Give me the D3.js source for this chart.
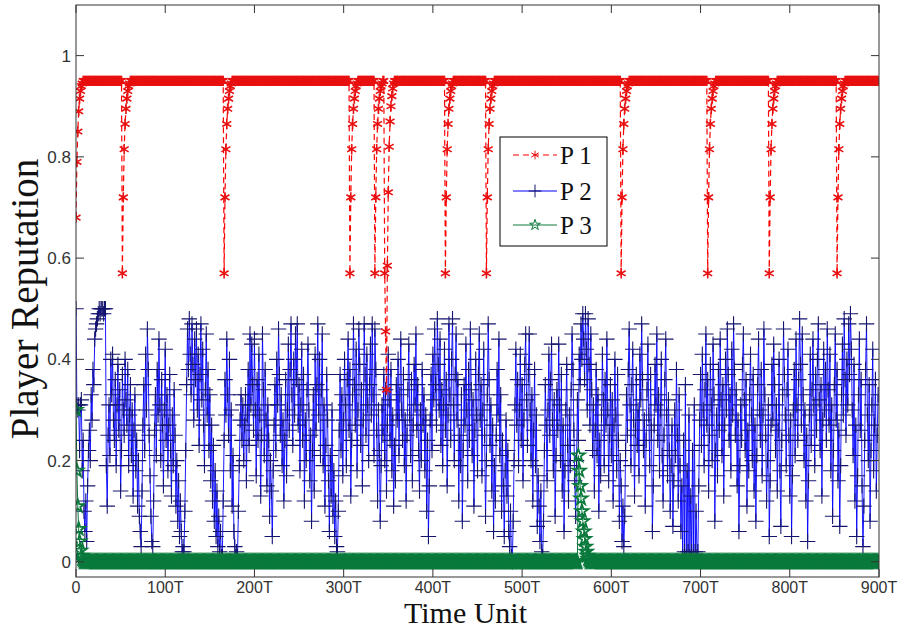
<!DOCTYPE html>
<html>
<head>
<meta charset="utf-8">
<script src="https://cdn.jsdelivr.net/npm/d3@7"></script>
<style>
  body { margin: 0; background: #fff; }
  svg { display: block; }
</style>
</head>
<body>
<svg class="svg" width="901" height="631"></svg>
<script>
// x ticks and labels
let xTicks = [0,100,200,300,400,500,600,700,800,900];
let xTickLabels = ['0','100T','200T','300T','400T','500T','600T','700T','800T','900T'];
let yTicks = [0,0.2,0.4,0.6,0.8,1];
let yTickLabels = ['0','0.2','0.4','0.6','0.8','1'];
let seriesNames = ['P 1','P 2','P 3'];

// P1: sits at the plateau, dips at these times and climbs back
let p1Plateau = 0.95;
let p1Start = [.68,.79,.85,.89,.915,.93,.94,.945];
let p1DipTimes = [52,166,307,335,414,460,611,708,777,853];
let p1Recovery = [.57,.72,.815,.865,.895,.915,.93,.94,.945];
let p1DeepDipTime = 346;
let p1DeepDip = [.57,.455,.34,.585,.73,.82,.87,.9,.92,.935,.945];

// P2, one value per time unit
let p2Values = [
.50,.31,.30,.31,.22,.31,.32,.18,.24,.10,.06,.12,.04,.15,.22,.26,.20,.33,.28,.38,.35,.44,.46,.47,.48,.49,.50,.49,.50,.50,
.50,.49,.50,.50,.19,.11,.25,.31,.21,.40,.33,.41,.28,.24,.36,.19,.31,.39,.26,.34,.14,.22,.37,.30,.25,.40,.32,.27,.38,.19,
.29,.35,.21,.30,.13,.26,.33,.18,.24,.11,.20,.09,.06,.03,.14,.27,.35,.22,.41,.30,.46,.38,.25,.17,.09,.04,.03,.12,.26,.33,
.21,.38,.29,.44,.31,.20,.36,.27,.15,.30,.42,.24,.33,.18,.27,.37,.22,.13,.29,.19,.34,.25,.11,.20,.08,.16,.05,.12,.06,.02,
.03,.02,.10,.22,.35,.46,.38,.48,.41,.33,.47,.39,.28,.44,.36,.46,.30,.41,.23,.37,.47,.32,.42,.27,.19,.34,.45,.29,.38,.22,
.33,.16,.27,.12,.23,.08,.18,.05,.14,.03,.09,.02,.06,.01,.01,.12,.24,.36,.29,.44,.33,.25,.40,.18,.30,.11,.21,.06,.03,.01,
.02,.01,.10,.19,.28,.33,.24,.31,.20,.27,.33,.16,.29,.38,.23,.45,.31,.43,.35,.26,.44,.30,.17,.36,.24,.41,.29,.13,.25,.45,
.34,.21,.38,.28,.15,.31,.24,.09,.20,.14,.05,.18,.27,.35,.22,.40,.31,.46,.37,.25,.33,.19,.28,.12,.24,.36,.17,.30,.43,.26,
.38,.47,.33,.23,.40,.29,.45,.36,.47,.27,.35,.18,.31,.42,.24,.37,.12,.28,.20,.34,.43,.30,.16,.25,.08,.22,.33,.14,.41,.26,
.35,.47,.29,.40,.21,.34,.45,.19,.31,.11,.23,.37,.28,.16,.06,.21,.13,.30,.09,.18,.05,.12,.03,.02,.10,.26,.37,.22,.33,.17,
.28,.40,.31,.19,.36,.44,.26,.38,.13,.24,.33,.47,.35,.27,.42,.18,.30,.46,.39,.23,.34,.15,.28,.47,.37,.25,.41,.31,.20,.35,
.43,.29,.47,.33,.21,.46,.38,.26,.12,.30,.22,.08,.19,.31,.25,.37,.20,.34,.14,.27,.41,.32,.24,.38,.18,.29,.11,.23,.16,.35,
.28,.40,.21,.33,.44,.30,.24,.37,.19,.28,.12,.25,.34,.43,.29,.21,.36,.16,.27,.39,.31,.45,.26,.35,.22,.14,.30,.20,.38,.27,
.33,.18,.29,.10,.24,.05,.15,.28,.37,.22,.41,.32,.46,.35,.27,.48,.39,.30,.44,.23,.34,.19,.31,.42,.26,.36,.15,.29,.47,.33,
.24,.40,.48,.31,.20,.37,.45,.28,.36,.12,.25,.19,.33,.08,.22,.35,.27,.43,.30,.16,.38,.24,.46,.34,.21,.32,.11,.26,.40,.29,
.18,.37,.45,.28,.35,.17,.30,.42,.25,.09,.20,.33,.47,.36,.23,.31,.14,.27,.06,.19,.12,.25,.38,.29,.44,.21,.33,.10,.24,.15,
.05,.18,.28,.13,.22,.06,.03,.10,.01,.00,.08,.20,.31,.42,.27,.36,.19,.30,.41,.24,.35,.16,.28,.39,.45,.32,.23,.37,.45,.30,
.20,.33,.12,.26,.38,.19,.29,.07,.17,.11,.04,.14,.02,.01,.08,.22,.35,.27,.16,.30,.41,.25,.36,.43,.28,.18,.32,.09,.21,.34,
.26,.43,.31,.20,.37,.14,.27,.06,.18,.30,.39,.23,.12,.29,.19,.34,.45,.38,.26,.16,.09,.20,.32,.24,.41,.35,.47,.40,.49,.44,
.36,.49,.42,.30,.48,.39,.27,.45,.34,.22,.31,.14,.26,.38,.21,.33,.10,.24,.17,.29,.41,.32,.19,.36,.27,.44,.30,.16,.25,.35,
.21,.32,.12,.27,.40,.29,.18,.37,.24,.08,.20,.15,.04,.11,.03,.09,.22,.33,.25,.38,.46,.31,.19,.35,.42,.28,.13,.26,.37,.23,
.30,.17,.41,.32,.47,.36,.22,.28,.11,.24,.34,.43,.29,.19,.37,.26,.06,.15,.27,.39,.31,.45,.24,.33,.18,.30,.40,.21,.12,.25,
.36,.44,.29,.17,.32,.22,.10,.19,.27,.07,.16,.30,.21,.38,.25,.12,.33,.19,.06,.15,.01,.24,.02,.35,.01,.18,.02,.29,.01,.13,
.02,.22,.01,.31,.02,.10,.01,.02,.15,.28,.37,.23,.41,.30,.19,.34,.45,.27,.36,.14,.25,.39,.31,.20,.43,.33,.08,.22,.29,.17,
.38,.26,.44,.32,.21,.35,.13,.27,.40,.30,.46,.37,.24,.33,.18,.42,.29,.47,.38,.25,.34,.15,.28,.06,.19,.31,.24,.39,.45,.32,
.22,.36,.11,.26,.18,.33,.41,.29,.20,.37,.14,.27,.08,.21,.35,.44,.30,.24,.38,.17,.29,.46,.33,.25,.12,.20,.31,.05,.16,.27,
.39,.28,.43,.35,.22,.31,.14,.26,.40,.18,.07,.24,.33,.46,.37,.29,.19,.34,.42,.25,.13,.28,.05,.17,.30,.38,.21,.44,.31,.24,
.36,.48,.39,.27,.45,.33,.20,.30,.12,.25,.04,.16,.29,.41,.23,.34,.44,.31,.19,.37,.26,.40,.47,.32,.22,.35,.13,.28,.42,.30,
.38,.24,.46,.34,.27,.41,.18,.31,.09,.22,.35,.45,.28,.38,.16,.26,.07,.19,.33,.43,.29,.48,.36,.25,.40,.31,.47,.37,.49,.42,
.30,.21,.39,.12,.27,.05,.17,.33,.44,.26,.36,.15,.03,.11,.24,.38,.47,.29,.20,.35,.08,.22,.31,.42,.18,.27,.36,.14,.25,.33
];

// P3: decays to zero at the start and after the bump near 563
let p3Start = [.30,.18,.11,.065,.04,.022,.012,.006,.003];
let p3BumpTime = 563;
let p3Bump = [.21,.18,.15,.125,.10,.08,.06,.045,.03,.02,.012,.006,.003];
let p3Floor = 0;

let nSteps = p2Values.length;

let p1 = [];
let p3 = [];
for (let i = 0; i < nSteps; i++) { p1.push(p1Plateau); p3.push(p3Floor); }
for (let i = 0; i < p1Start.length; i++) p1[i] = p1Start[i];
for (let k = 0; k < p1DipTimes.length; k++) {
    for (let j = 0; j < p1Recovery.length; j++) p1[p1DipTimes[k] + j] = p1Recovery[j];
}
for (let j = 0; j < p1DeepDip.length; j++) p1[p1DeepDipTime + j] = p1DeepDip[j];
for (let i = 0; i < p3Start.length; i++) p3[i] = p3Start[i];
for (let j = 0; j < p3Bump.length; j++) p3[p3BumpTime + j] = p3Bump[j];

let plotLeft = 76, plotRight = 879, plotTop = 5, plotBottom = 577;
let tickLen = 8;

let svg = d3.select('.svg');
let x = d3.scaleLinear().domain([0, 900]).range([plotLeft, plotRight]);
let y = d3.scaleLinear().domain([-0.03, 1.1]).range([plotBottom, plotTop]);

let series = [
    {name: seriesNames[0], values: p1, line: '#ff0000', marker: '#e81010', dash: '6,4', symbol: d3.symbolAsterisk, size: 75, lw: 1.2, mw: 1.6},
    {name: seriesNames[1], values: p2Values, line: '#0000ff', marker: '#14146e', dash: null, symbol: d3.symbolPlus, size: 80, lw: 0.9, mw: 1.1},
    {name: seriesNames[2], values: p3, line: '#0a7a3c', marker: '#0a7a3c', dash: null, symbol: d3.symbolStar, size: 52, lw: 1, mw: 1.8}
];

let clip = svg.append('clipPath').attr('id', 'plotClip');
clip.append('rect').attr('x', plotLeft).attr('y', plotTop)
    .attr('width', plotRight - plotLeft).attr('height', plotBottom - plotTop);

let plotG = svg.append('g').attr('clip-path', 'url(#plotClip)');

let lineGen = d3.line()
    .x(function (d, i) { return x(i); })
    .y(function (d) { return y(d); });

// draw order: P2 first, P3 above, P1 on top
let order = [1, 2, 0];
for (let o = 0; o < order.length; o++) {
    let s = series[order[o]];
    let g = plotG.append('g').attr('class', 'series');
    g.append('path')
        .attr('d', lineGen(s.values))
        .attr('fill', 'none')
        .attr('stroke', s.line)
        .attr('stroke-width', s.lw)
        .attr('stroke-dasharray', s.dash);
    let sym = d3.symbol().type(s.symbol).size(s.size);
    g.selectAll('path.mk')
        .data(s.values)
        .enter()
        .append('path')
        .attr('class', 'mk')
        .attr('d', sym)
        .attr('transform', function (d, i) { return 'translate(' + x(i) + ',' + y(d) + ')'; })
        .attr('fill', 'none')
        .attr('stroke', s.marker)
        .attr('stroke-width', s.mw);
}

// box and ticks
let axisColor = '#333';
svg.append('rect')
    .attr('x', plotLeft).attr('y', plotTop)
    .attr('width', plotRight - plotLeft).attr('height', plotBottom - plotTop)
    .attr('fill', 'none').attr('stroke', axisColor).attr('stroke-width', 1);

let tickG = svg.append('g').attr('stroke', axisColor).attr('stroke-width', 1);
xTicks.forEach(function (t) {
    tickG.append('line').attr('x1', x(t)).attr('x2', x(t)).attr('y1', plotBottom).attr('y2', plotBottom - tickLen);
    tickG.append('line').attr('x1', x(t)).attr('x2', x(t)).attr('y1', plotTop).attr('y2', plotTop + tickLen);
});
yTicks.forEach(function (t) {
    tickG.append('line').attr('x1', plotLeft).attr('x2', plotLeft + tickLen).attr('y1', y(t)).attr('y2', y(t));
    tickG.append('line').attr('x1', plotRight).attr('x2', plotRight - tickLen).attr('y1', y(t)).attr('y2', y(t));
});

svg.selectAll('.xlab')
    .data(xTicks)
    .enter()
    .append('text')
    .attr('class', 'xlab')
    .attr('x', function (d) { return x(d); })
    .attr('y', 593)
    .attr('text-anchor', 'middle')
    .attr('font-family', 'Liberation Sans, Arial, sans-serif')
    .attr('font-size', '16px')
    .attr('fill', '#333')
    .text(function (d, i) { return xTickLabels[i]; });

svg.selectAll('.ylab')
    .data(yTicks)
    .enter()
    .append('text')
    .attr('class', 'ylab')
    .attr('x', 71)
    .attr('y', function (d) { return y(d) + 6; })
    .attr('text-anchor', 'end')
    .attr('font-family', 'Liberation Sans, Arial, sans-serif')
    .attr('font-size', '17px')
    .attr('fill', '#333')
    .text(function (d, i) { return yTickLabels[i]; });

svg.append('text')
    .attr('x', (plotLeft + plotRight) / 2 - 12)
    .attr('y', 623)
    .attr('text-anchor', 'middle')
    .attr('font-family', 'Liberation Serif, Times New Roman, serif')
    .attr('font-size', '30px')
    .attr('fill', '#111')
    .text('Time Unit');

svg.append('text')
    .attr('transform', 'translate(38,' + ((plotTop + plotBottom) / 2 + 8) + ') rotate(-90)')
    .attr('text-anchor', 'middle')
    .attr('font-family', 'Liberation Serif, Times New Roman, serif')
    .attr('font-size', '39px')
    .attr('fill', '#111')
    .text('Player Reputation');

// legend
let legX = 500, legY = 137, legW = 107, legH = 109;
let legG = svg.append('g').attr('class', 'legend');
legG.append('rect')
    .attr('x', legX).attr('y', legY).attr('width', legW).attr('height', legH)
    .attr('fill', '#fff').attr('stroke', '#000').attr('stroke-width', 1);
let legRows = [155, 191, 225];
series.forEach(function (s, i) {
    legG.append('line')
        .attr('x1', 513).attr('x2', 557)
        .attr('y1', legRows[i]).attr('y2', legRows[i])
        .attr('stroke', s.line).attr('stroke-width', 1)
        .attr('stroke-dasharray', s.dash);
    legG.append('path')
        .attr('d', d3.symbol().type(s.symbol).size(s.size * 0.7)())
        .attr('transform', 'translate(535,' + legRows[i] + ')')
        .attr('fill', 'none').attr('stroke', s.marker).attr('stroke-width', 1);
    legG.append('text')
        .attr('x', 560).attr('y', legRows[i] + 9)
        .attr('font-family', 'Liberation Serif, Times New Roman, serif')
        .attr('font-size', '25px')
        .attr('fill', '#111')
        .text(s.name);
});
</script>
</body>
</html>
